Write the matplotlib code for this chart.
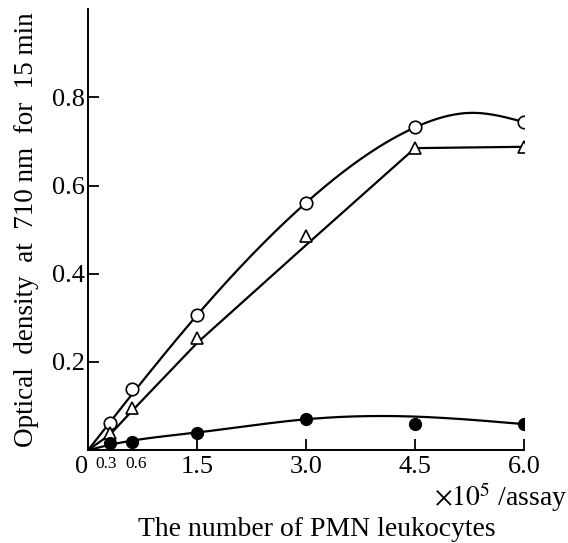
import numpy as np
import matplotlib
matplotlib.use('Agg')
import matplotlib.pyplot as plt
import matplotlib.transforms as mtransforms

plt.rcParams['font.family'] = ['Liberation Serif', 'DejaVu Serif']
plt.rcParams['mathtext.fontset'] = 'stix'

# cells per assay (x10^5)
cells = [0.3, 0.6, 1.5, 3.0, 4.5, 6.0]
# measured optical densities
od_open_circle = [0.061, 0.138, 0.306, 0.561, 0.732, 0.744]
od_triangle = [0.039, 0.095, 0.254, 0.485, 0.685, 0.688]
od_filled = [0.016, 0.019, 0.039, 0.070, 0.059, 0.059]

# hand drawn curves (knots)
curve_open_x = [0, 1.5, 3.0, 4.5, 5.3, 6.0]
curve_open_y = [0, 0.306, 0.561, 0.732, 0.765, 0.744]
curve_tri_x = [0, 0.3, 0.6, 1.5, 3.0, 4.5, 6.0]
curve_tri_y = [0, 0.035, 0.088, 0.243, 0.465, 0.685, 0.688]
curve_fill_x = [0, 0.3, 1.5, 3.0, 4.3, 6.0]
curve_fill_y = [0, 0.012, 0.040, 0.070, 0.077, 0.059]

xtick_pos = [0, 0.3, 0.6, 1.5, 3.0, 4.5, 6.0]
xtick_lab = ['0', '0.3', '0.6', '1.5', '3.0', '4.5', '6.0']
ytick_pos = [0.2, 0.4, 0.6, 0.8]


def spline(xk, yk, n=300):
    # natural cubic spline
    xk = np.asarray(xk, float)
    yk = np.asarray(yk, float)
    m = len(xk)
    h = np.diff(xk)
    A = np.zeros((m, m))
    b = np.zeros(m)
    A[0, 0] = 1
    A[-1, -1] = 1
    for i in range(1, m - 1):
        A[i, i - 1] = h[i - 1]
        A[i, i] = 2 * (h[i - 1] + h[i])
        A[i, i + 1] = h[i]
        b[i] = 3 * ((yk[i + 1] - yk[i]) / h[i] - (yk[i] - yk[i - 1]) / h[i - 1])
    c = np.linalg.solve(A, b)
    xs = np.linspace(xk[0], xk[-1], n)
    idx = np.clip(np.searchsorted(xk, xs) - 1, 0, m - 2)
    dx = xs - xk[idx]
    bb = (yk[idx + 1] - yk[idx]) / h[idx] - h[idx] * (2 * c[idx] + c[idx + 1]) / 3
    dd = (c[idx + 1] - c[idx]) / (3 * h[idx])
    return xs, yk[idx] + bb * dx + c[idx] * dx ** 2 + dd * dx ** 3


fig = plt.figure(figsize=(5.68, 5.43), dpi=100)
ax = fig.add_axes([0.155, 0.171, 0.7675, 0.812])

xs, ys = spline(curve_open_x, curve_open_y)
ax.plot(xs, ys, color='black', lw=1.6, zorder=2)
ax.plot(curve_tri_x, curve_tri_y, color='black', lw=1.6, zorder=2)
xs, ys = spline(curve_fill_x, curve_fill_y)
ax.plot(xs, ys, color='black', lw=1.6, zorder=2)

ax.plot(cells, od_open_circle, 'o', ms=9, mfc='white', mec='black', mew=1.2, zorder=3)
ax.plot(cells, od_triangle, '^', ms=9, mfc='white', mec='black', mew=1.2, zorder=3)
ax.plot(cells, od_filled, 'o', ms=8.5, color='black', zorder=3)

ax.set_xlim(0, 6.0)
ax.set_ylim(0, 1.0)
for s in ['top', 'right']:
    ax.spines[s].set_visible(False)
for s in ['left', 'bottom']:
    ax.spines[s].set_linewidth(1.4)

ax.set_xticks(xtick_pos)
ax.set_xticklabels(xtick_lab)
ax.set_yticks(ytick_pos)
ax.set_yticklabels([str(v) for v in ytick_pos])
ax.tick_params(direction='in', length=8, width=1.3, labelsize=19)
ax.tick_params(axis='x', pad=4)
ax.tick_params(axis='y', pad=2)
labs = ax.get_xticklabels()
for i in [1, 2]:
    labs[i].set_fontsize(12.5)
    ax.xaxis.get_major_ticks()[i].tick1line.set_markersize(0)
ax.xaxis.get_major_ticks()[0].tick1line.set_markersize(0)
labs[0].set_horizontalalignment('right')
labs[1].set_transform(labs[1].get_transform() + mtransforms.ScaledTranslation(-3 / 72, 0, fig.dpi_scale_trans))
labs[2].set_transform(labs[2].get_transform() + mtransforms.ScaledTranslation(3 / 72, 0, fig.dpi_scale_trans))

ax.set_ylabel('Optical  density  at  710 nm  for  15 min', fontsize=19.5)
ax.yaxis.set_label_coords(-0.112, 0.5)
fig.text(0.558, 0.012, 'The number of PMN leukocytes', fontsize=20, ha='center')
fig.text(1.0, 0.068, r'$\times10^{5}$ /assay', fontsize=20, ha='right')

fig.savefig('out.png', dpi=100)
